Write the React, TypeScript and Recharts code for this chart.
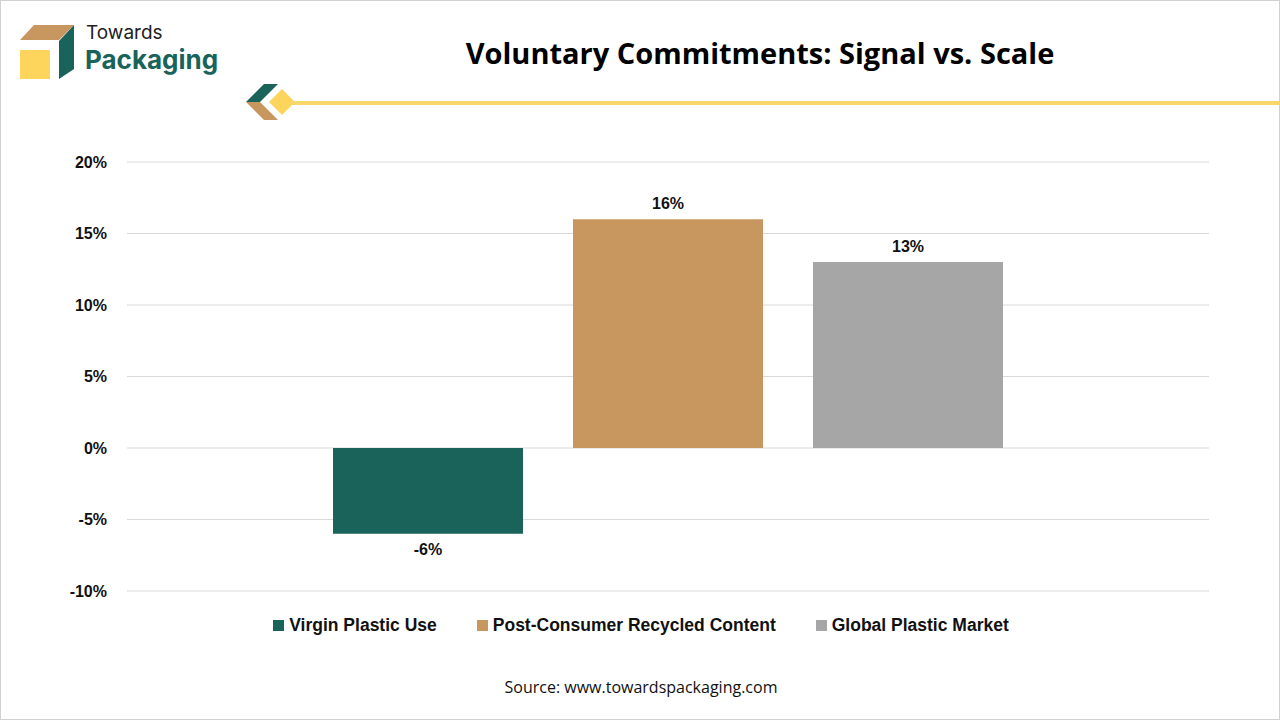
import React from "react";
import { BarChart, Bar, XAxis, YAxis, CartesianGrid, LabelList } from "recharts";

const seriesKeys = ["virgin", "pcr", "global"];
const seriesNames = ["Virgin Plastic Use", "Post-Consumer Recycled Content", "Global Plastic Market"];
const seriesValues = [-6, 16, 13];
const seriesColors = ["#19635a", "#c8965f", "#a6a6a6"];
const yTicks = [-10, -5, 0, 5, 10, 15, 20];

const row: Record<string, number | string> = { name: "Commitments" };
seriesKeys.forEach((k, i) => {
  row[k] = seriesValues[i];
});
const chartData = [row];

const font = "'Liberation Sans', Arial, sans-serif";

function Logo() {
  return (
    <svg width={320} height={130} style={{ position: "absolute", left: 0, top: 0 }}>
      <polygon points="19,39 33,24 73,24 58,39" fill="#c8965f" />
      <polygon points="58,40 73,24 73,68 58,78" fill="#19635a" />
      <rect x={19} y={49} width={30} height={29} fill="#fdd45c" />
      <text x={85} y={38} fontFamily="Inter, sans-serif" fontSize={19} fill="#222">
        Towards
      </text>
      <text x={84} y={68} fontFamily="Inter, sans-serif" fontWeight={700} fontSize={26} fill="#19635a">
        Packaging
      </text>
      <polygon points="245,101 263,83 277,83 259,101" fill="#19635a" />
      <polygon points="245,101 259,101 277,119 263,119" fill="#c8965f" />
      <polygon points="281,88 294,101 281,114 268,101" fill="#fdd45c" />
    </svg>
  );
}

function LegendRow() {
  return (
    <div
      style={{
        position: "absolute",
        top: 614,
        left: 0,
        width: 1280,
        display: "flex",
        justifyContent: "center",
        gap: 40,
        fontFamily: font,
        fontWeight: 700,
        fontSize: 17.5,
        color: "#111",
      }}
    >
      {seriesNames.map((n, i) => (
        <div key={n} style={{ display: "flex", alignItems: "center", gap: 5 }}>
          <span style={{ width: 11, height: 11, background: seriesColors[i], display: "inline-block" }} />
          <span>{n}</span>
        </div>
      ))}
    </div>
  );
}

export default function App() {
  return (
    <div
      style={{
        position: "absolute",
        left: 0,
        top: 0,
        width: 1280,
        height: 720,
        background: "#fff",
        boxSizing: "border-box",
        border: "1px solid #d0d0d0",
        overflow: "hidden",
      }}
    >
      <Logo />
      <div
        style={{
          position: "absolute",
          left: 290,
          top: 100,
          width: 990,
          height: 4,
          background: "#f7d76a",
        }}
      />
      <div
        style={{
          position: "absolute",
          top: 32,
          left: 0,
          width: 1518,
          textAlign: "center",
          fontFamily: "'Open Sans', sans-serif",
          fontWeight: 700,
          fontSize: 29,
          color: "#000",
        }}
      >
        Voluntary Commitments: Signal vs. Scale
      </div>
      <div style={{ position: "absolute", left: -1, top: -1 }}>
        <BarChart
          width={1280}
          height={720}
          data={chartData}
          margin={{ top: 162, right: 71, bottom: 129, left: 6 }}
          barSize={190}
          barGap={50}
        >
          <CartesianGrid vertical={false} stroke="#d9d9d9" />
          <XAxis dataKey="name" hide />
          <YAxis
            width={121}
            domain={[-10, 20]}
            ticks={yTicks}
            interval={0}
            axisLine={false}
            tickLine={false}
            tickMargin={14}
            tickFormatter={(v: number) => `${v}%`}
            tick={{ fontFamily: font, fontWeight: 700, fontSize: 16, fill: "#111" }}
          />
          {seriesKeys.map((k, i) => (
            <Bar key={k} dataKey={k} name={seriesNames[i]} fill={seriesColors[i]} isAnimationActive={false}>
              <LabelList
                dataKey={k}
                position="top"
                offset={10}
                formatter={(v: number) => `${v}%`}
                style={{ fontFamily: font, fontWeight: 700, fontSize: 16, fill: "#111" }}
              />
            </Bar>
          ))}
        </BarChart>
      </div>
      <LegendRow />
      <div
        style={{
          position: "absolute",
          top: 675,
          left: 0,
          width: 1280,
          textAlign: "center",
          fontFamily: "'Liberation Sans Narrow', 'Open Sans', sans-serif",
          fontSize: 16,
          color: "#111",
        }}
      >
        Source: www.towardspackaging.com
      </div>
    </div>
  );
}
